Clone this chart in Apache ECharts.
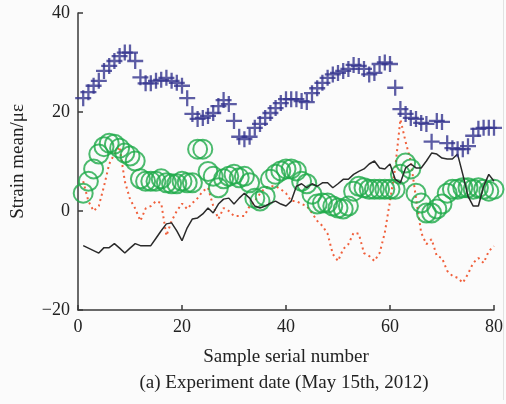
<!DOCTYPE html>
<html>
<head>
<meta charset="utf-8">
<script src="https://cdn.jsdelivr.net/npm/echarts@6/dist/echarts.min.js"></script>
<style>
  html, body { margin: 0; padding: 0; background: #fbfbfb; }
  #chart { width: 506px; height: 404px; }
</style>
</head>
<body>
<div id="chart"></div>
<script>
// sample serial number 1..80
const samples = Array.from({ length: 80 }, (_, i) => i + 1)

// blue plus markers
const blueVals = [
  22.8, 24, 25.3, 26.3, 28.3, 29.3, 30.3, 31.3, 32, 32,
  30.3, 27, 25.8, 25.8, 26.3, 26.5, 26.9, 26.3, 25.9, 25.3,
  22.8, 19.6, 18.6, 18.8, 19.2, 19.8, 21.2, 22.4, 21.6, 18.2,
  15, 14.5, 15, 16.8, 17.6, 18.8, 19.8, 20.8, 21.8, 22.6,
  22.6, 22.6, 22.2, 22, 23.8, 24.8, 25.9, 26.9, 27.6, 27.9,
  28.3, 28.7, 29.5, 29.3, 28.7, 27.6, 27.9, 29.7, 30, 29.7,
  24.9, 20.6, 19.6, 18.8, 18.6, 17.8, 17.6, 14, 18.2, 18,
  13.7, 12.7, 12.5, 12.5, 13.1, 15.2, 16.6, 16.8, 16.8, 16.8
]

// green open circles
const greenVals = [
  3.6, 6, 8.5, 11.5, 13, 13.7, 13.5, 12.7, 11.7, 11.1,
  10.1, 6.5, 6, 6, 6, 6.5, 5.7, 5.5, 5.5, 6,
  5.7, 5.7, 12.5, 12.5, 8, 7, 4.7, 6.5, 7, 7.4,
  6.7, 7, 5.7, 2.6, 2, 3, 6.4, 7.4, 8.1, 8.5,
  8.5, 8.1, 6, 5.5, 3.4, 1.4, 1.6, 1.6, 1, 0.6,
  0.4, 1, 4, 5, 4.7, 4.4, 4.4, 4.4, 4.4, 4.4,
  4.4, 7.4, 9.7, 8.5, 3.6, 1.6, -0.4, -0.4, 0.4, 1.4,
  3.6, 4.4, 4.4, 4.7, 4.7, 4.4, 4.7, 4.4, 4, 4.4
]

// red dotted line
const redVals = [
  6, 2, 0, 1, 5, 9.5, 11.5, 13, 6, 2.4,
  0.5, -2, 0.5, 1, 2, 1.6, -5, -2, 0, 1.5,
  0.4, 1.6, 2.6, 4, 4.7, 1, -1.6, 0.6, 0, -1,
  -1, -1, 1, 2, 3.5, 4.7, 5, 5, 4.4, 3.6,
  2, 2, 1.4, 1, -0.4, -2, -3, -4.6, -8.7, -10.1,
  -7.7, -6.7, -4.4, -4.6, -8.5, -9.1, -10.1, -8.5, -4.4, 2,
  8.7, 18.5, 14, 10, 2.6, -4.4, -6.7, -5.7, -9.1, -9.5,
  -12.1, -13.1, -13.5, -14.5, -12.7, -10.5, -9.5, -10.5, -8.1, -7.1
]

// black solid line
const blackVals = [
  -7, -7.5, -8, -8.5, -7.4, -7.4, -6.6, -7.5, -8.5, -7.5,
  -6.6, -7, -7, -7, -5.5, -4, -2.6, -2.4, -4, -6,
  -3.4, -1.6, -1.4, -0.6, 0.6, -0.4, 1.4, 2.4, 2.6, 1.4,
  2.6, 3.6, 2.6, 1, 0.6, 1, 1.6, 2, 1.4, 1,
  2, 5, 5.5, 4.7, 5.5, 5, 5.7, 5.7, 4.7, 5.5,
  6.4, 6.4, 7.4, 8, 8.5, 9.5, 10.1, 8.7, 8.5, 9.5,
  6.4, 5.7, 8.7, 9.5, 8.7, 8.7, 10.1, 11.7, 11.5, 10.7,
  10.5, 10.5, 11.5, 7.4, 3, 1, 1, 5, 7.4, 6
]

const xTicks = [0, 20, 40, 60, 80]
const yTicks = [-20, 0, 20, 40]

const pair = vals => samples.map((x, i) => [x, vals[i]])

const serif = '"Liberation Serif", "DejaVu Serif", serif'
const axisColor = '#3a3a3a'

const chart = echarts.init(document.getElementById('chart'))

chart.setOption({
  backgroundColor: '#fbfbfb',
  animation: false,
  grid: { left: 78, right: 12, top: 13, bottom: 94 },
  xAxis: {
    type: 'value',
    min: xTicks[0],
    max: xTicks[xTicks.length - 1],
    interval: 20,
    name: 'Sample serial number',
    nameLocation: 'middle',
    nameGap: 38,
    nameTextStyle: { fontFamily: serif, fontSize: 19, color: '#222' },
    axisLine: { onZero: false, lineStyle: { color: axisColor, width: 1.5 } },
    axisTick: { inside: true, length: 5, lineStyle: { color: axisColor, width: 1.5 } },
    axisLabel: { fontFamily: serif, fontSize: 18, color: '#222', margin: 8 },
    splitLine: { show: false }
  },
  yAxis: {
    type: 'value',
    min: yTicks[0],
    max: yTicks[yTicks.length - 1],
    interval: 20,
    name: 'Strain mean/με',
    nameLocation: 'middle',
    nameGap: 50,
    nameTextStyle: { fontFamily: serif, fontSize: 19, color: '#222' },
    axisLine: { show: true, onZero: false, lineStyle: { color: axisColor, width: 1.5 } },
    axisTick: { show: true, inside: true, length: 5, lineStyle: { color: axisColor, width: 1.5 } },
    axisLabel: {
      fontFamily: serif, fontSize: 18, color: '#222', margin: 8,
      formatter: v => (v < 0 ? '\u2212' + Math.abs(v) : String(v))
    },
    splitLine: { show: false }
  },
  graphic: [
    {
      type: 'text',
      x: 284,
      y: 383,
      style: {
        text: '(a) Experiment date (May 15th, 2012)',
        font: '19px "Liberation Serif", serif',
        fill: '#222',
        align: 'center',
        verticalAlign: 'middle'
      }
    },
    {
      type: 'rect',
      right: 2,
      top: 0,
      shape: { width: 1, height: 400 },
      style: { fill: '#e2e2e2' }
    }
  ],
  series: [
    {
      name: 'red',
      type: 'line',
      data: pair(redVals),
      showSymbol: false,
      lineStyle: { color: '#f0603c', width: 2, type: [2, 3.5] },
      z: 1
    },
    {
      name: 'green',
      type: 'scatter',
      data: pair(greenVals),
      symbol: 'circle',
      symbolSize: 19,
      itemStyle: { color: 'rgba(0,0,0,0)', borderColor: '#1faa4a', borderWidth: 2 },
      z: 2
    },
    {
      name: 'black',
      type: 'line',
      data: pair(blackVals),
      showSymbol: false,
      lineStyle: { color: '#2a2a2a', width: 1.5 },
      z: 3
    },
    {
      name: 'blue',
      type: 'scatter',
      data: pair(blueVals),
      symbol: 'path://M6,0H8V6H14V8H8V14H6V8H0V6H6Z',
      symbolSize: 16,
      itemStyle: { color: '#35358f' },
      z: 4
    }
  ]
})
</script>
</body>
</html>
